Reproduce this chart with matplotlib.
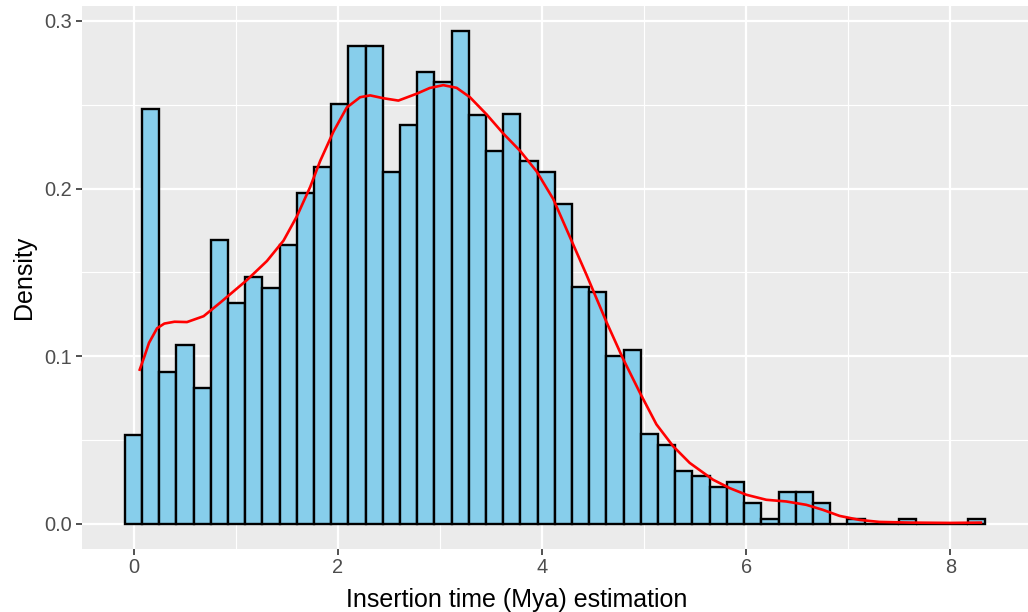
import numpy as np
import matplotlib.pyplot as plt

plt.rcParams['font.family'] = ['Liberation Sans', 'DejaVu Sans']

# histogram: 50 bins, density per bin
bin_lo, bin_hi, n_bins = -0.088, 8.34, 50
hist_density = [0.0529, 0.2473, 0.0909, 0.1066, 0.0813, 0.1691, 0.1317, 0.1473, 0.1407, 0.1663,
                0.1973, 0.2130, 0.2506, 0.2850, 0.2850, 0.2099, 0.2379, 0.2693, 0.2634, 0.2942,
                0.2438, 0.2226, 0.2442, 0.2165, 0.2099, 0.1909, 0.1412, 0.1382, 0.1002, 0.1036,
                0.0534, 0.0470, 0.0314, 0.0284, 0.0220, 0.0252, 0.0124, 0.0031, 0.0188, 0.0188,
                0.0124, 0.0, 0.0031, 0.0, 0.0, 0.0031, 0.0, 0.0, 0.0, 0.0031]

# kernel density curve
kde_x = [0.059, 0.10, 0.15, 0.229, 0.30, 0.40, 0.522, 0.685, 0.848, 1.11, 1.305, 1.468, 1.599, 1.729,
         1.827, 1.957, 2.088, 2.218, 2.316, 2.446, 2.593, 2.773, 2.90, 3.033, 3.164, 3.294, 3.458,
         3.620, 3.784, 3.947, 4.110, 4.273, 4.436, 4.632, 4.795, 4.958, 5.121, 5.284, 5.447,
         5.675, 5.838, 6.002, 6.198, 6.393, 6.589, 6.752, 6.915, 7.111, 7.306, 7.6, 8.0, 8.30]
kde_y = [0.092, 0.099, 0.108, 0.1167, 0.1195, 0.1206, 0.1204, 0.1239, 0.132, 0.1455, 0.1568, 0.169,
         0.1835, 0.201, 0.2165, 0.234, 0.2484, 0.2545, 0.2556, 0.2539, 0.2525, 0.2566, 0.2600, 0.2617,
         0.2601, 0.2545, 0.2442, 0.2329, 0.2226, 0.2103, 0.1938, 0.1712, 0.1486, 0.1204, 0.0984, 0.0784,
         0.0594, 0.0464, 0.0364, 0.0264, 0.0214, 0.0174, 0.0144, 0.0134, 0.0114, 0.0084, 0.0048, 0.0024,
         0.0012, 0.0008, 0.0006, 0.0008]

x_ticks = [0, 2, 4, 6, 8]
y_ticks = [0.0, 0.1, 0.2, 0.3]
y_labels = ['0.0', '0.1', '0.2', '0.3']

edges = np.linspace(bin_lo, bin_hi, n_bins + 1)
width = edges[1] - edges[0]

fig = plt.figure(figsize=(10.28, 6.12), dpi=100)
ax = fig.add_axes([81.7 / 1028, 1 - 548.6 / 612, 1 - 81.7 / 1028, (548.6 - 6) / 612])
ax.set_facecolor('#EBEBEB')

ax.bar(edges[:-1], hist_density, width=width, align='edge', color='#87CEEB',
       edgecolor='black', linewidth=1.7, zorder=3)
ax.plot(kde_x, kde_y, color='red', linewidth=1.9, zorder=4, solid_joinstyle='round')

span = bin_hi - bin_lo
ax.set_xlim(bin_lo - 0.05 * span, bin_hi + 0.05 * span)
top = max(hist_density)
ax.set_ylim(-0.05 * top, top * 1.05)

ax.set_xticks(x_ticks)
ax.set_yticks(y_ticks)
ax.set_yticklabels(y_labels)
ax.set_xticks([1, 3, 5, 7], minor=True)
ax.set_yticks([0.05, 0.15, 0.25], minor=True)
ax.grid(which='major', color='white', linewidth=1.6, zorder=0)
ax.grid(which='minor', color='white', linewidth=0.8, zorder=0)
ax.set_axisbelow(True)
for s in ax.spines.values():
    s.set_visible(False)
ax.tick_params(which='major', length=4.3, width=1.2, color='#333333',
               labelsize=14.4, labelcolor='#4D4D4D', pad=2.5)
ax.tick_params(which='minor', length=0)

ax.set_xlabel('Insertion time (Mya) estimation', fontsize=18)
ax.xaxis.set_label_coords((516.5 - 81.7) / (1028 - 81.7), -0.073)
ax.set_ylabel('Density', fontsize=18, labelpad=6)

fig.savefig('out.png', dpi=100)
